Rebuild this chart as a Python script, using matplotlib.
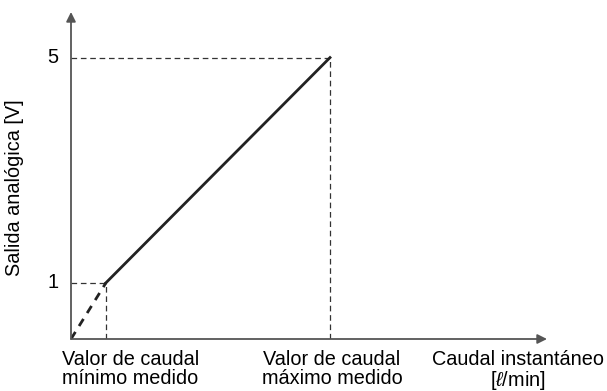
import matplotlib
matplotlib.use("Agg")
import matplotlib.pyplot as plt

plt.rcParams['font.family'] = ['Liberation Sans', 'DejaVu Sans']
plt.rcParams['mathtext.fontset'] = 'custom'
plt.rcParams['mathtext.it'] = 'Liberation Sans:italic'

# schematic values (x in arbitrary units, y in volts)
x_min_flow = 1.0
x_max_flow = 7.4
v_low = 1
v_high = 5
x_axis_end = 13.6
y_axis_end = 5.81

y_ticks = [1, 5]
x_labels = ['Valor de caudal\nmínimo medido', 'Valor de caudal\nmáximo medido']
x_label_pos = [1.69, 7.46]
x_title = 'Caudal instantáneo\n[$\\ell$/min]'
y_title = 'Salida analógica [V]'

fs = 14.3

fig = plt.figure(figsize=(6.07, 3.91), dpi=100)
# axes placed so that origin sits at the same pixel as the reference
ax = fig.add_axes([71/607, 52/391, (547-71)/607, (339-12)/391])
ax.set_xlim(0, x_axis_end)
ax.set_ylim(0, y_axis_end)
for s in ax.spines.values():
    s.set_visible(False)
ax.set_xticks([])
ax.set_yticks([])

axis_col = '#555555'
# axes arrows
ax.annotate('', xy=(x_axis_end, 0), xytext=(0, 0),
            arrowprops=dict(arrowstyle='-|>', color=axis_col, lw=1.3,
                            mutation_scale=14, shrinkA=0, shrinkB=0),
            annotation_clip=False)
ax.annotate('', xy=(0, y_axis_end), xytext=(0, 0),
            arrowprops=dict(arrowstyle='-|>', color=axis_col, lw=1.3,
                            mutation_scale=14, shrinkA=0, shrinkB=0),
            annotation_clip=False)

# guide lines
dash = dict(color='#333333', lw=0.9, dashes=(4.5, 3))
ax.plot([0, x_min_flow], [v_low, v_low], **dash)
ax.plot([x_min_flow, x_min_flow], [0, v_low], **dash)
ax.plot([0, x_max_flow], [v_high, v_high], **dash)
ax.plot([x_max_flow, x_max_flow], [0, v_high], **dash)

# output characteristic
ax.plot([0, x_min_flow], [0, v_low], color='#222222', lw=2, dashes=(3, 2.5))
ax.plot([x_min_flow, x_max_flow], [v_low, v_high], color='#222222', lw=2)

# tick labels
for v in y_ticks:
    ax.text(-0.35, v, str(v), ha='right', va='center', fontsize=fs)

for lab, xp in zip(x_labels, x_label_pos):
    ax.text(xp, -0.2, lab, ha='center', va='top', fontsize=fs, linespacing=0.98)
ax.text(12.77, -0.2, x_title, ha='center', va='top', fontsize=fs, linespacing=0.98)

fig.text(15/607, 1 - 188/391, y_title, rotation=90, ha='center', va='center', fontsize=fs)

fig.savefig('out.png', dpi=100)
